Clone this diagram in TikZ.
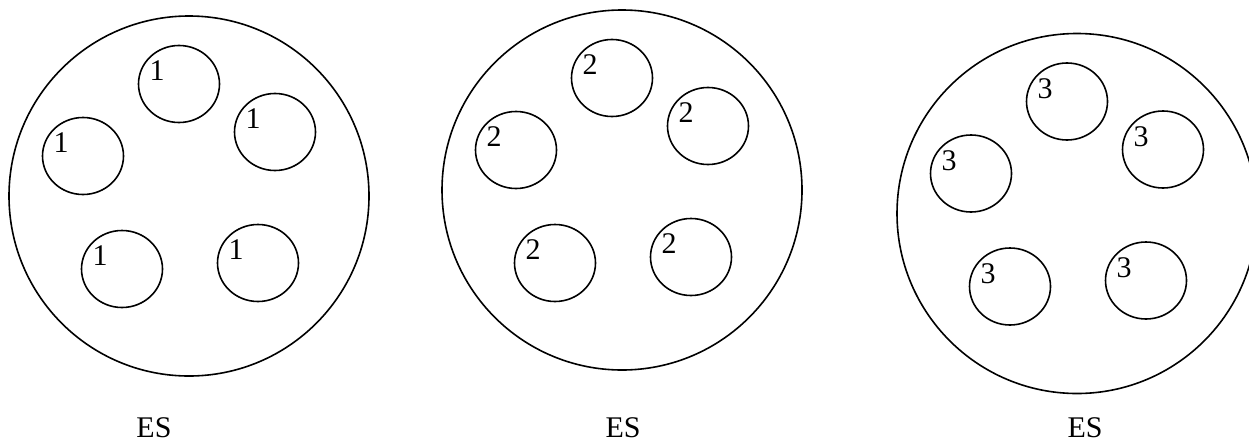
\documentclass[tikz,border=0pt]{standalone}
\usepackage{fontspec}
\setmainfont{Liberation Serif}
\usetikzlibrary{shapes.geometric}

\begin{document}
\begin{tikzpicture}[x=1pt,y=-1pt,line width=1.6pt]
\tikzset{
  cell/.style={draw,circle,minimum size=360pt,inner sep=0pt},
  grain/.style={draw,ellipse,minimum width=81pt,minimum height=77pt,inner sep=0pt},
  num/.style={inner sep=0pt,font=\fontsize{30}{36}\selectfont}
}
\useasboundingbox (0,0) rectangle (1249,442);
\foreach \n/\cx/\cy in {1/189/196,2/622/190,3/1077/213.5}{
  \node[cell] (cell\n) at (\cx,\cy) {};
  \foreach \g/\dx/\dy in {a/-10/-112,b/-106/-40,c/86/-64,d/-67/73,e/69/67}{
    \node[grain] (grain\n\g) at (\cx+\dx,\cy+\dy) {};
    \node[num] (num\n\g) at (\cx+\dx-22,\cy+\dy-13) {\n};
  }
}
\node[num] (es1) at (154,428) {ES};
\node[num] (es2) at (623,428) {ES};
\node[num] (es3) at (1085,428) {ES};
\end{tikzpicture}
\end{document}
